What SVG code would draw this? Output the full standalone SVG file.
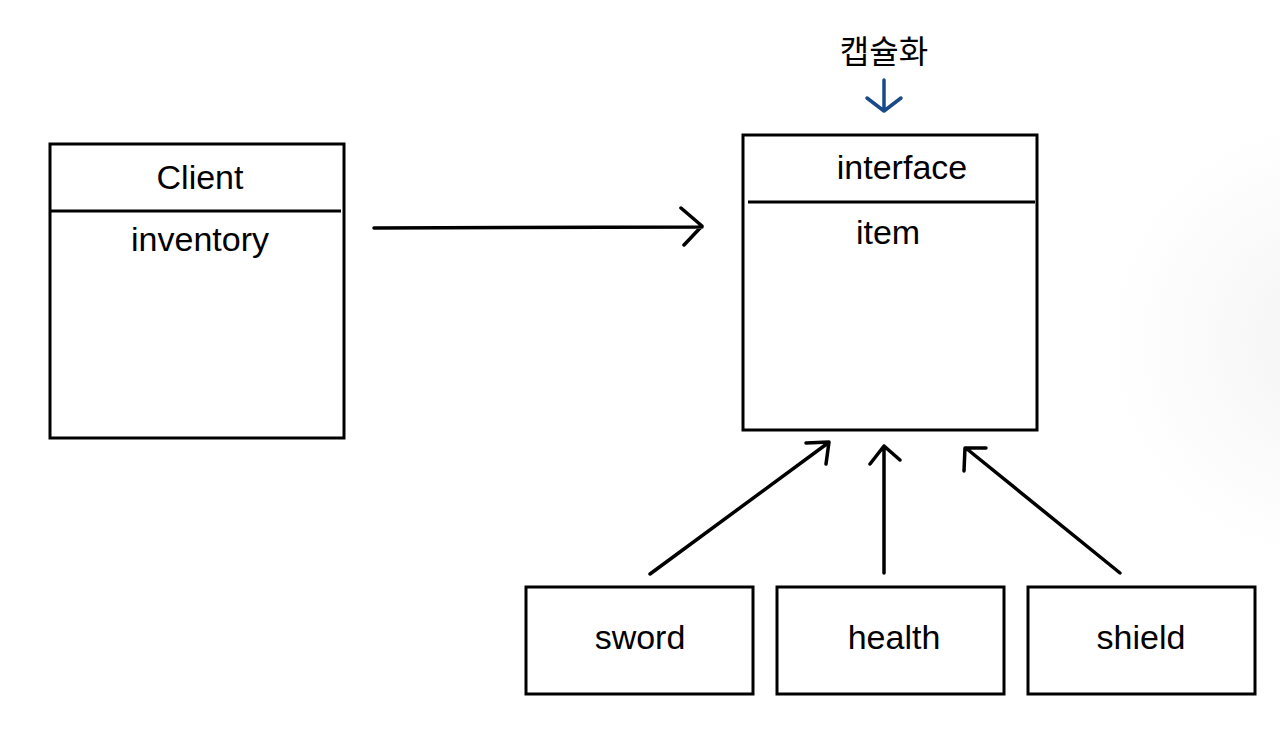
<svg xmlns="http://www.w3.org/2000/svg" width="1280" height="730" viewBox="0 0 1280 730">
<defs>
<radialGradient id="bg" cx="1330" cy="340" r="220" gradientUnits="userSpaceOnUse">
<stop offset="0" stop-color="#f4f4f4"/>
<stop offset="1" stop-color="#ffffff"/>
</radialGradient>
</defs>
<style>
.box{fill:none;stroke:#000;stroke-width:3}
.ln{fill:none;stroke:#000;stroke-width:3.5;stroke-linecap:round;stroke-linejoin:round}
.blue{fill:none;stroke:#1a4a8a;stroke-width:3.5;stroke-linecap:round;stroke-linejoin:round}
.t{font-family:"Liberation Sans","Noto Sans CJK KR",Arial,sans-serif;font-size:34px;fill:#000;text-anchor:middle}
.k{font-family:"Noto Sans CJK KR",sans-serif;font-size:32px;fill:#000;text-anchor:middle}
</style>
<rect width="1280" height="730" fill="#fff"/>
<rect x="1060" y="80" width="220" height="520" fill="url(#bg)"/>
<g id="encap">
<text class="k" x="884" y="63">캡슐화</text>
<path class="blue" d="M884 80 L884 111 M867 98 L884 111 L901 98"/>
</g>
<g id="client">
<rect class="box" x="50" y="144" width="294" height="294"/>
<line class="box" x1="50" y1="211" x2="341" y2="211"/>
<text class="t" x="200" y="189">Client</text>
<text class="t" x="200" y="251">inventory</text>
</g>
<g id="item">
<rect class="box" x="743" y="135" width="294" height="295"/>
<line class="box" x1="748" y1="202" x2="1035" y2="202"/>
<text class="t" x="902" y="179">interface</text>
<text class="t" x="888" y="244">item</text>
</g>
<g id="sword">
<rect class="box" x="526" y="587" width="227" height="107"/>
<text class="t" x="640" y="649">sword</text>
</g>
<g id="health">
<rect class="box" x="777" y="587" width="227" height="107"/>
<text class="t" x="894" y="649">health</text>
</g>
<g id="shield">
<rect class="box" x="1028" y="587" width="227" height="107"/>
<text class="t" x="1141" y="649">shield</text>
</g>
<g id="connectors">
<path class="ln" d="M374 228 L702 227 M681 208 L702 226 L684 245"/>
<path class="ln" d="M650 574 L828 443 M806 443 L829 442 L826 464"/>
<path class="ln" d="M884 573 L884 446 M870 464 L884 446 L900 460"/>
<path class="ln" d="M1120 573 L967 449 M964 471 L965 448 L986 448"/>
</g>
</svg>
